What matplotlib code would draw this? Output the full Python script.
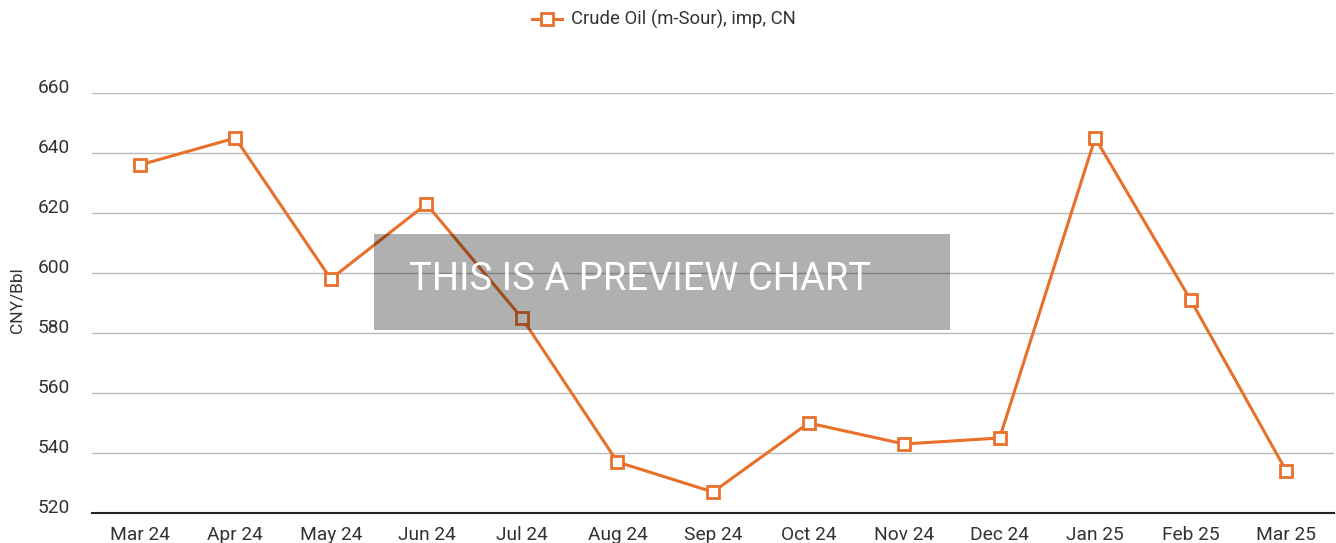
import matplotlib
matplotlib.use('agg')
import matplotlib.pyplot as plt
from matplotlib.patches import Rectangle

months = ['Mar 24', 'Apr 24', 'May 24', 'Jun 24', 'Jul 24', 'Aug 24', 'Sep 24',
          'Oct 24', 'Nov 24', 'Dec 24', 'Jan 25', 'Feb 25', 'Mar 25']
crude_oil = [636, 645, 598, 623, 585, 537, 527, 550, 543, 545, 645, 591, 534]
yticks = [520, 540, 560, 580, 600, 620, 640, 660]

plt.rcParams['font.family'] = ['Roboto', 'DejaVu Sans']

def main():
    fig = plt.figure(figsize=(13.36, 5.43), dpi=100)
    ax = fig.add_axes([92 / 1336, 30 / 543, 1242 / 1336, 420 / 543])

    x = list(range(len(months)))
    ax.plot(x, crude_oil, color='#e8702a', lw=2.2, marker='s', ms=8.5,
            mfc='white', mec='#e8702a', mew=2, label='Crude Oil (m-Sour), imp, CN',
            zorder=3)

    ax.set_xlim(-0.5, len(months) - 0.5)
    ax.set_ylim(yticks[0], yticks[-1])
    ax.set_xticks(x)
    ax.set_xticklabels(months)
    ax.set_yticks(yticks)
    ax.tick_params(axis='both', length=0, labelsize=13.8, colors='#333333')
    ax.tick_params(axis='y', pad=16)
    ax.tick_params(axis='x', pad=9)
    for lab in ax.get_yticklabels():
        lab.set_verticalalignment('baseline')

    ax.grid(axis='y', color='#bbbbbb', lw=1)
    ax.set_axisbelow(True)
    for s in ['top', 'right', 'left']:
        ax.spines[s].set_visible(False)
    ax.spines['bottom'].set_color('#222222')
    ax.spines['bottom'].set_linewidth(1.5)

    fig.text(18 / 1336, 1 - 300 / 543, 'CNY/Bbl', rotation=90, ha='center',
             va='center', fontsize=12.5, color='#333333')

    fig.legend(loc='upper center', bbox_to_anchor=(0.497, 1.012), frameon=False,
               fontsize=13.3, handlelength=1.6, handletextpad=0.5,
               labelcolor='#333333')

    # preview overlay
    fig.patches.append(Rectangle((374 / 1336, 1 - 330 / 543), 576 / 1336, 96 / 543,
                                 transform=fig.transFigure, facecolor='black',
                                 alpha=0.31, zorder=5))
    fig.text(640 / 1336, 1 - 280 / 543, 'THIS IS A PREVIEW CHART', color='white',
             fontsize=27.5, ha='center', va='center', zorder=6)

    plt.savefig('out.png', dpi=100)

if __name__ == '__main__':
    main()
